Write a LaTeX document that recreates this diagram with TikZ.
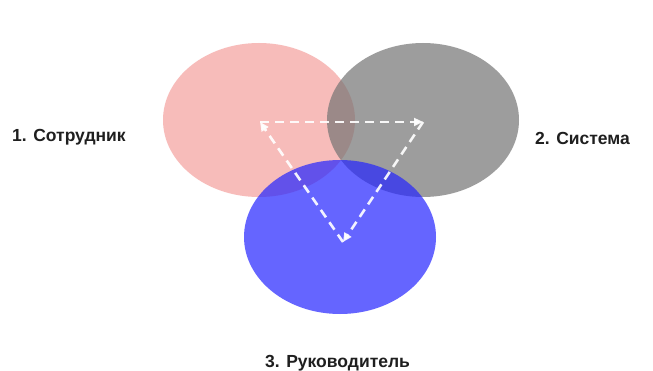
\documentclass[tikz,border=0pt]{standalone}
\usepackage{fontspec}
\setmainfont{Liberation Sans}
\usetikzlibrary{shapes.geometric,arrows.meta}
\definecolor{pinkc}{RGB}{245,160,158}
\definecolor{grayc}{RGB}{116,116,116}
\definecolor{bluec}{RGB}{36,36,255}
\tikzset{
  blob/.style={ellipse, minimum width=192pt, minimum height=154pt, inner sep=0pt, fill opacity=0.7, draw=none},
  lbl/.style={font=\bfseries\fontsize{17.5}{20}\selectfont, text=black!88, inner sep=0pt},
  flow/.style={draw=white, opacity=0.92, line width=2.6pt, dash pattern=on 9pt off 6pt, -{Triangle[length=9pt,width=8pt]}}
}
\begin{document}
\begin{tikzpicture}[x=1pt,y=-1pt]
\useasboundingbox (0,0) rectangle (653,371);
\fill[white] (0,0) rectangle (653,371);
\node[blob, fill=pinkc] (emp) at (259,120) {};
\node[blob, fill=grayc] (sys) at (423,120) {};
\node[blob, fill=bluec] (mgr) at (340,237) {};
\coordinate (a) at (260,122);
\coordinate (b) at (423,122);
\coordinate (c) at (343,242);
\draw[flow] (a) -- (b);
\draw[flow] (b) -- (c);
\draw[flow] (c) -- (a);
\node[lbl, anchor=west] (l1) at (12,137) {1. Сотрудник};
\node[lbl, anchor=west] (l2) at (535,138) {2. Система};
\node[lbl, anchor=west] (l3) at (265,363) {3. Руководитель};
\end{tikzpicture}
\end{document}
